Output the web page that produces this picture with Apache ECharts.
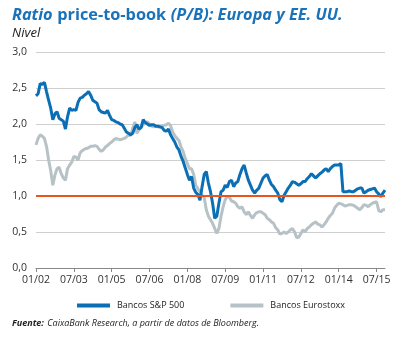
<!DOCTYPE html>
<html>
<head>
<meta charset="utf-8">
<script src="https://cdn.jsdelivr.net/npm/echarts@6/dist/echarts.min.js"></script>
<style>
  html, body { margin: 0; padding: 0; background: #fff; }
  #chart { width: 398px; height: 338px; }
</style>
</head>
<body>
<div id="chart"></div>
<script>
// Monthly observations, January 2002 to November 2015
const startYear = 2002;
const monthCount = 167;

const tickLabels = ['01/02', '07/03', '01/05', '07/06', '01/08', '07/09', '01/11', '07/12', '01/14', '07/15'];

const seriesNames = ['Bancos S&P 500', 'Bancos Eurostoxx'];

const sp500 = [
  2.39, 2.42, 2.56, 2.55, 2.58, 2.45, 2.33, 2.22, 2.06, 2.14,
  2.17, 2.08, 2.06, 2.04, 1.93, 2.10, 2.22, 2.19, 2.20, 2.19,
  2.30, 2.36, 2.37, 2.40, 2.42, 2.45, 2.40, 2.33, 2.31, 2.29,
  2.20, 2.17, 2.16, 2.15, 2.19, 2.12, 2.06, 2.05, 2.03, 2.02,
  2.00, 1.99, 1.94, 1.89, 1.87, 1.85, 1.87, 1.95, 1.99, 1.93,
  1.95, 2.06, 2.02, 2.00, 1.98, 1.99, 1.99, 1.97, 1.97, 1.96,
  1.95, 1.91, 1.90, 1.93, 1.85, 1.80, 1.75, 1.68, 1.64, 1.55,
  1.48, 1.39, 1.30, 1.22, 1.27, 1.11, 1.05, 1.02, 0.94, 1.13,
  1.30, 1.34, 1.18, 1.06, 0.90, 0.69, 0.72, 0.90, 1.06, 1.08,
  1.15, 1.12, 1.20, 1.22, 1.13, 1.18, 1.20, 1.30, 1.38, 1.43,
  1.32, 1.22, 1.15, 1.08, 1.04, 1.08, 1.11, 1.18, 1.25, 1.28,
  1.30, 1.22, 1.16, 1.13, 1.08, 1.04, 0.95, 0.92, 1.01, 1.06,
  1.11, 1.15, 1.20, 1.19, 1.17, 1.15, 1.17, 1.20, 1.20, 1.24,
  1.27, 1.31, 1.28, 1.25, 1.28, 1.31, 1.33, 1.36, 1.38, 1.34,
  1.38, 1.41, 1.43, 1.43, 1.43, 1.45, 1.06, 1.06, 1.06, 1.07,
  1.06, 1.06, 1.08, 1.10, 1.11, 1.11, 1.04, 1.06, 1.08, 1.09,
  1.10, 1.11, 1.06, 1.03, 0.99, 1.04, 1.08
];

const eurostoxx = [
  1.71, 1.80, 1.85, 1.83, 1.80, 1.69, 1.50, 1.35, 1.15, 1.29,
  1.38, 1.40, 1.31, 1.25, 1.22, 1.38, 1.43, 1.47, 1.55, 1.54,
  1.50, 1.60, 1.63, 1.65, 1.66, 1.67, 1.69, 1.69, 1.70, 1.69,
  1.65, 1.62, 1.64, 1.68, 1.70, 1.73, 1.75, 1.78, 1.80, 1.79,
  1.78, 1.79, 1.80, 1.82, 1.85, 1.84, 1.94, 2.03, 1.87, 1.92,
  1.96, 1.99, 2.01, 2.03, 2.00, 1.97, 1.96, 1.97, 1.96, 1.96,
  1.97, 1.98, 1.99, 2.01, 1.98, 1.89, 1.84, 1.80, 1.77, 1.68,
  1.62, 1.52, 1.45, 1.38, 1.38, 1.30, 1.15, 1.10, 1.06, 1.01,
  0.98, 0.81, 0.72, 0.67, 0.62, 0.55, 0.48, 0.55, 0.72, 0.85,
  0.95, 0.99, 0.98, 0.93, 0.92, 0.90, 0.85, 0.83, 0.85, 0.78,
  0.74, 0.78, 0.73, 0.69, 0.74, 0.77, 0.78, 0.78, 0.76, 0.74,
  0.69, 0.67, 0.64, 0.62, 0.56, 0.53, 0.47, 0.48, 0.50, 0.48,
  0.50, 0.53, 0.55, 0.50, 0.42, 0.43, 0.48, 0.53, 0.50, 0.55,
  0.57, 0.60, 0.62, 0.64, 0.61, 0.60, 0.57, 0.60, 0.64, 0.69,
  0.73, 0.76, 0.83, 0.87, 0.90, 0.89, 0.88, 0.86, 0.87, 0.88,
  0.88, 0.87, 0.85, 0.83, 0.81, 0.84, 0.88, 0.87, 0.85, 0.88,
  0.90, 0.91, 0.92, 0.80, 0.78, 0.81, 0.81
];

const referenceLevel = 1.0;

// Month labels "MM/YY"
const months = [];
for (let i = 0; i < monthCount; i++) {
  const y = startYear + Math.floor(i / 12);
  const m = (i % 12) + 1;
  months.push(String(m).padStart(2, '0') + '/' + String(y % 100).padStart(2, '0'));
}

const FONT = '"Open Sans", "Noto Sans", sans-serif';
const BLUE = '#0b6fb6';
const GREY = '#b7c2c6';
const ORANGE = '#e9541e';

const chart = echarts.init(document.getElementById('chart'), null, { renderer: 'canvas' });

chart.setOption({
  animation: false,
  backgroundColor: '#fff',
  textStyle: { fontFamily: FONT },
  title: [
    {
      left: 7, top: 1,
      text: '{i|Ratio} {n|price-to-book} {i|(P/B): Europa y EE. UU.}',
      textStyle: {
        rich: {
          i: { fontFamily: FONT, fontSize: 16.3, fontWeight: 'bold', fontStyle: 'italic', color: '#1a73b9' },
          n: { fontFamily: FONT, fontSize: 16.3, fontWeight: 'bold', color: '#1a73b9' }
        }
      }
    },
    {
      left: 7, top: 22,
      text: 'Nivel',
      textStyle: { fontFamily: FONT, fontSize: 13, fontStyle: 'italic', fontWeight: 'normal', color: '#222' }
    }
  ],
  legend: {
    left: 72, top: 296,
    itemWidth: 33, itemHeight: 4, itemGap: 46,
    icon: 'rect',
    textStyle: { fontFamily: FONT, fontSize: 9, color: '#222', padding: [0, 0, 0, 2] },
    data: seriesNames
  },
  graphic: [
    {
      type: 'text', left: 12, top: 317,
      style: {
        text: '{b|Fuente:} {n|CaixaBank Research, a partir de datos de Bloomberg.}',
        rich: {
          b: { fontFamily: FONT, fontSize: 9, fontWeight: 'bold', fontStyle: 'italic', fill: '#222' },
          n: { fontFamily: FONT, fontSize: 9, fontStyle: 'italic', fill: '#222' }
        }
      }
    }
  ],
  grid: { left: 36, right: 13, top: 52, bottom: 70 },
  xAxis: {
    type: 'category',
    data: months,
    boundaryGap: false,
    axisLine: { show: true, lineStyle: { color: '#888', width: 1 } },
    axisTick: {
      show: true, length: 4, lineStyle: { color: '#888' },
      interval: (idx) => tickLabels.includes(months[idx])
    },
    axisLabel: {
      interval: (idx) => tickLabels.includes(months[idx]),
      fontFamily: FONT, fontSize: 10.5, color: '#333', margin: 7
    },
    splitLine: { show: false }
  },
  yAxis: {
    type: 'value',
    min: 0, max: 3, interval: 0.5,
    axisLine: { show: false },
    axisTick: { show: false },
    axisLabel: {
      fontFamily: FONT, fontSize: 10.5, color: '#333', margin: 9,
      formatter: (v) => v.toFixed(1).replace('.', ',')
    },
    splitLine: { show: true, lineStyle: { color: '#cfcfcf', width: 1 } }
  },
  series: [
    {
      name: seriesNames[1],
      type: 'line',
      data: eurostoxx,
      showSymbol: false,
      symbol: 'none',
      lineStyle: { color: GREY, width: 3 },
      itemStyle: { color: GREY },
      z: 2
    },
    {
      name: seriesNames[0],
      type: 'line',
      data: sp500,
      showSymbol: false,
      symbol: 'none',
      lineStyle: { color: BLUE, width: 3 },
      itemStyle: { color: BLUE },
      z: 3,
      markLine: {
        silent: true,
        symbol: ['none', 'none'],
        label: { show: false },
        lineStyle: { color: ORANGE, width: 2, type: 'solid' },
        data: [{ yAxis: referenceLevel }]
      }
    }
  ]
});
</script>
</body>
</html>
